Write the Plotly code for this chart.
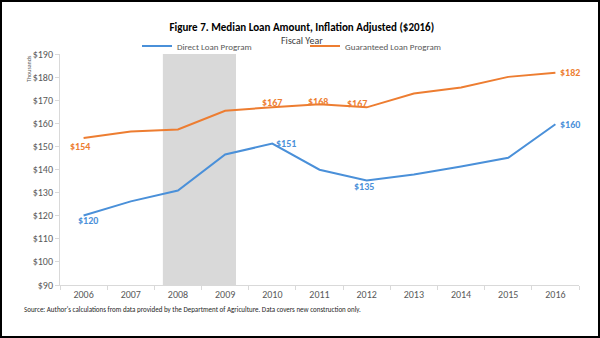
import plotly.graph_objects as go

# Fiscal years and median loan amounts (thousands of 2016 dollars)
years = ["2006", "2007", "2008", "2009", "2010", "2011", "2012", "2013", "2014", "2015", "2016"]
direct = [120.1, 126.2, 130.9, 146.5, 151.2, 139.9, 135.2, 137.8, 141.3, 145.1, 159.6]
guaranteed = [153.6, 156.4, 157.3, 165.4, 167.0, 168.3, 166.9, 172.9, 175.5, 180.1, 181.9]

# Years whose values are printed next to the lines
direct_labeled = ["2006", "2010", "2012", "2016"]
guaranteed_labeled = ["2006", "2010", "2011", "2012", "2016"]

# Shaded recession band, in category-index units
shade_start, shade_end = 1.68, 3.23

BLUE = "#4a90d9"
ORANGE = "#ed7d31"
GREY = "#595959"
FONT = "Carlito, Lato, sans-serif"

W, H = 600, 338
ML, MR, MT, MB = 60, 21, 54, 53
PW, PH = W - ML - MR, H - MT - MB


def px_x(px):
    return (px - ML) / PW


def px_y(py):
    return (H - MB - py) / PH


fig = go.Figure()
fig.add_trace(go.Scatter(x=years, y=direct, mode="lines", name="Direct Loan Program",
                         line=dict(color=BLUE, width=2)))
fig.add_trace(go.Scatter(x=years, y=guaranteed, mode="lines", name="Guaranteed Loan Program",
                         line=dict(color=ORANGE, width=2)))

# Value labels (offsets in pixels relative to the point)
direct_offsets = {"2006": (4, -5), "2010": (14, 0), "2012": (-3, -6), "2016": (15, 0)}
guar_offsets = {"2006": (-4, -8), "2010": (0, 5), "2011": (-2, 3), "2012": (-10, 4), "2016": (15, 0)}

annotations = []
for series, labeled, offsets, color in [(direct, direct_labeled, direct_offsets, BLUE),
                                        (guaranteed, guaranteed_labeled, guar_offsets, ORANGE)]:
    for yr in labeled:
        i = years.index(yr)
        v = series[i]
        dx, dy = offsets[yr]
        annotations.append(dict(x=i, y=v, xref="x", yref="y", text="<b>$" + str(round(v)) + "</b>",
                                showarrow=False, xshift=dx, yshift=dy,
                                xanchor="center", yanchor="middle",
                                font=dict(family=FONT, size=10, color=color)))

annotations += [
    dict(text="Fiscal Year", x=px_x(302), y=px_y(40.5), xref="paper", yref="paper",
         xanchor="center", yanchor="middle",
         showarrow=False, font=dict(family=FONT, size=10, color="#404040")),
    dict(text="Thousands", x=px_x(29), y=px_y(69), xref="paper", yref="paper",
         xanchor="center", yanchor="middle",
         textangle=-90, showarrow=False, font=dict(family=FONT, size=6, color=GREY)),
    dict(text="Source: Author's calculations from data provided by the Department of Agriculture. "
              "Data covers new construction only.",
         x=px_x(22), y=px_y(309), xref="paper", yref="paper", xanchor="left", yanchor="middle",
         showarrow=False, font=dict(family=FONT, size=7, color="#262626")),
]

shapes = [
    dict(type="rect", xref="x", yref="paper", x0=shade_start, x1=shade_end, y0=0, y1=1,
         fillcolor="#d9d9d9", line=dict(width=0), layer="below"),
    dict(type="rect", xref="paper", yref="paper", x0=px_x(1), x1=px_x(599),
         y0=px_y(337), y1=px_y(1), line=dict(color="black", width=2)),
]

fig.update_layout(
    width=W, height=H,
    margin=dict(l=ML, r=MR, t=MT, b=MB),
    paper_bgcolor="white", plot_bgcolor="white",
    font=dict(family=FONT, color=GREY),
    title=dict(text="<b>Figure 7. Median Loan Amount, Inflation Adjusted ($2016)</b>",
               x=0.503, xref="container", y=1 - 27 / H, yref="container",
               xanchor="center", yanchor="middle",
               font=dict(family=FONT, size=11, color="black")),
    legend=dict(orientation="h", x=px_x(137), xanchor="left", y=px_y(46), yanchor="middle",
                font=dict(family=FONT, size=9, color=GREY), entrywidth=123,
                entrywidthmode="pixels", bgcolor="rgba(0,0,0,0)"),
    xaxis=dict(type="category", range=[-0.5, 10.5], showgrid=False, showline=True,
               linecolor="#d9d9d9", ticks="outside", tickson="boundaries", ticklen=4,
               tickcolor="#d9d9d9", tickfont=dict(family=FONT, size=10, color=GREY)),
    yaxis=dict(range=[90, 190], dtick=10, tickprefix="$", showgrid=False, showline=True,
               linecolor="#d9d9d9", ticks="outside", ticklen=4, tickcolor="#d9d9d9",
               tickfont=dict(family=FONT, size=10, color=GREY), zeroline=False),
    annotations=annotations,
    shapes=shapes,
)

fig.write_html("out.html")
